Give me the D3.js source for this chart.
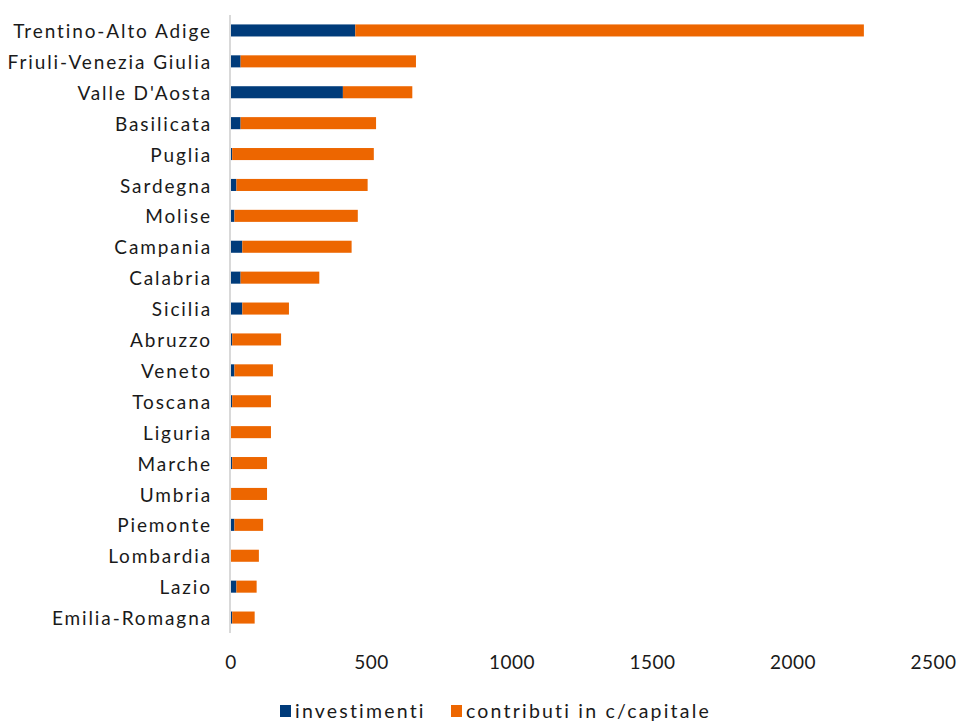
<!DOCTYPE html>
<html>
<head>
<meta charset="utf-8">
<script src="https://cdn.jsdelivr.net/npm/d3@7"></script>
<style>
  html, body { margin: 0; padding: 0; background: #fff; }
  svg text { font-family: Lato, "Open Sans", sans-serif; fill: #1a1a1a; }
</style>
</head>
<body>
<svg id="chart" width="958" height="722"></svg>
<script>
// Regions, ordered by total value
const regions = [
  "Trentino-Alto Adige", "Friuli-Venezia Giulia", "Valle D'Aosta", "Basilicata",
  "Puglia", "Sardegna", "Molise", "Campania", "Calabria", "Sicilia", "Abruzzo",
  "Veneto", "Toscana", "Liguria", "Marche", "Umbria", "Piemonte", "Lombardia",
  "Lazio", "Emilia-Romagna"
];
const investimenti = [444, 36, 400, 36, 6, 21, 14, 42, 36, 42, 6, 14, 6, 1, 6, 2, 14, 0, 21, 6];
const contributi   = [1810, 624, 247, 482, 504, 467, 439, 389, 280, 166, 174, 137, 138, 143, 124, 128, 102, 101, 72, 80];
const xTicks = [0, 500, 1000, 1500, 2000, 2500];
const seriesNames = ["investimenti", "contributi in c/capitale"];
const seriesColors = ["#003b7a", "#ed6600"];

const svg = d3.select("#chart");
const margin = { left: 230.5, right: 958 - 933, top: 15, bottom: 722 - 633 };
const W = 958, H = 722;

const table = regions.map((r, i) => ({ region: r, investimenti: investimenti[i], contributi: contributi[i] }));
const stack = d3.stack().keys(["investimenti", "contributi"])(table);

const x = d3.scaleLinear().domain([0, 2500]).range([margin.left, W - margin.right]);
const y = d3.scaleBand().domain(regions).range([margin.top, H - margin.bottom]).paddingInner(0.61).paddingOuter(0.305);

// bars
svg.append("g").selectAll("g")
  .data(stack)
  .join("g")
  .attr("fill", (d, i) => seriesColors[i])
  .selectAll("rect")
  .data(d => d)
  .join("rect")
  .attr("x", d => x(d[0]))
  .attr("y", d => y(d.data.region))
  .attr("width", d => Math.max(0, x(d[1]) - x(d[0])))
  .attr("height", y.bandwidth());

// vertical axis line
svg.append("line")
  .attr("x1", x(0) - 0.5).attr("x2", x(0) - 0.5)
  .attr("y1", margin.top).attr("y2", H - margin.bottom)
  .attr("stroke", "#d9d9d9").attr("stroke-width", 2);

// category labels
const yAxis = d3.axisLeft(y).tickSize(0).tickPadding(18.5);
const gy = svg.append("g").attr("transform", `translate(${margin.left},0)`).call(yAxis);
gy.select(".domain").remove();
gy.selectAll("text").attr("font-size", 19).attr("dy", "0.4em")
  .style("font-family", "Lato, 'Open Sans', sans-serif").style("letter-spacing", "1.9px").attr("fill", "#1a1a1a");

// value labels
const xAxis = d3.axisBottom(x).tickValues(xTicks).tickSize(0).tickPadding(0).tickFormat(d3.format("d"));
const gx = svg.append("g").attr("transform", `translate(0,${H - margin.bottom + 22})`).call(xAxis);
gx.select(".domain").remove();
gx.selectAll("text").attr("font-size", 19).attr("dy", "0.71em")
  .style("font-family", "Lato, 'Open Sans', sans-serif").style("letter-spacing", "0.5px").attr("fill", "#1a1a1a");

// legend
const legendItems = [{ name: seriesNames[0], color: seriesColors[0], x: 280 }, { name: seriesNames[1], color: seriesColors[1], x: 451 }];
const lg = svg.append("g");
legendItems.forEach(it => {
  lg.append("rect").attr("x", it.x).attr("y", 705).attr("width", 11).attr("height", 12).attr("fill", it.color);
  lg.append("text").attr("x", it.x + 15).attr("y", 711).attr("dy", "0.38em").attr("font-size", 19.5)
    .style("letter-spacing", "2.2px").text(it.name);
});
</script>
</body>
</html>
